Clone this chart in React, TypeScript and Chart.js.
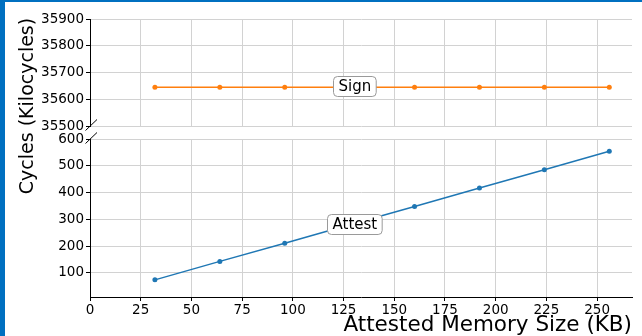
import React, { useEffect, useRef } from 'react';
import { Chart, registerables } from 'chart.js';

Chart.register(...registerables);

// ---- data ----
const memorySizes = [32, 64, 96, 128, 160, 192, 224, 256];
const signCycles = [35645, 35645, 35645, 35645, 35645, 35645, 35645, 35645];
const attestCycles = [74, 143, 211, 280, 348, 417, 485, 554];
const xTicks = [0, 25, 50, 75, 100, 125, 150, 175, 200, 225, 250];
const topYTicks = [35500, 35600, 35700, 35800, 35900];
const bottomYTicks = [100, 200, 300, 400, 500, 600];
const labelX = 131.5;

// ---- layout ----
const W = 642;
const H = 336;
const PLOT_LEFT = 90;
const PLOT_RIGHT = 632;
const TOP_TOP = 19;
const TOP_BOTTOM = 126;
const BOT_TOP = 139;
const BOT_BOTTOM = 297;
const Y_W = 70;
const X_MIN = 0;
const X_MAX = 267.2;

const FONT = "'DejaVu Sans', sans-serif";
const GRID = '#d2d2d2';
const ORANGE = '#ff7f0e';
const BLUE = '#1f77b4';

function interp(xs: number[], ys: number[], x: number): number {
  for (let i = 0; i < xs.length - 1; i++) {
    if (x >= xs[i] && x <= xs[i + 1]) {
      const t = (x - xs[i]) / (xs[i + 1] - xs[i]);
      return ys[i] + t * (ys[i + 1] - ys[i]);
    }
  }
  return ys[ys.length - 1];
}

function inlineLabel(text: string, series: number[], dy: number) {
  return {
    id: 'inlineLabel' + text,
    afterDatasetsDraw(chart: any) {
      const ctx = chart.ctx;
      const xs = chart.scales.x;
      const ys = chart.scales.y;
      const px = xs.getPixelForValue(labelX) - 2;
      const py = ys.getPixelForValue(interp(memorySizes, series, labelX)) + dy;
      ctx.save();
      ctx.font = `15px ${FONT}`;
      const tw = ctx.measureText(text).width;
      const w = tw + 10;
      const h = 20;
      const x0 = Math.round(px - w / 2);
      const y0 = Math.round(py - h / 2);
      ctx.beginPath();
      ctx.roundRect(x0 + 0.5, y0 + 0.5, w, h, 4);
      ctx.fillStyle = '#ffffff';
      ctx.fill();
      ctx.strokeStyle = '#9a9a9a';
      ctx.lineWidth = 1;
      ctx.stroke();
      ctx.fillStyle = '#000';
      ctx.textAlign = 'center';
      ctx.textBaseline = 'middle';
      ctx.fillText(text, x0 + w / 2 + 0.5, y0 + h / 2 + 1);
      ctx.restore();
    },
  };
}

function breakMark(where: 'bottom' | 'top') {
  return {
    id: 'breakMark' + where,
    afterDraw(chart: any) {
      const ctx = chart.ctx;
      const a = chart.chartArea;
      const cx = a.left + 1;
      const cy = where === 'bottom' ? a.bottom - 1 : a.top - 1;
      ctx.save();
      ctx.strokeStyle = '#000';
      ctx.lineWidth = 1;
      ctx.beginPath();
      ctx.moveTo(cx - 5.5, cy + 5.5);
      ctx.lineTo(cx + 6, cy - 5.5);
      ctx.stroke();
      ctx.restore();
    },
  };
}

const yTitlePlugin = {
  id: 'yTitle',
  afterDraw(chart: any) {
    const ctx = chart.ctx;
    ctx.save();
    ctx.translate(28, 106);
    ctx.rotate(-Math.PI / 2);
    ctx.font = `19px ${FONT}`;
    ctx.fillStyle = '#000';
    ctx.textAlign = 'center';
    ctx.textBaseline = 'middle';
    ctx.fillText('Cycles (Kilocycles)', 0, 0);
    ctx.restore();
  },
};

const tickFont = { family: FONT, size: 13.5 };
const plainTick = (v: any) => String(v);

const fitX = (h: number) => (s: any) => {
  s.height = h;
  s.paddingLeft = 0;
  s.paddingRight = 0;
};
const fitY = (s: any) => {
  s.width = Y_W;
  s.paddingTop = 0;
  s.paddingBottom = 0;
};

export default function App() {
  const topRef = useRef<HTMLCanvasElement | null>(null);
  const botRef = useRef<HTMLCanvasElement | null>(null);

  useEffect(() => {
    const top = new Chart(topRef.current as HTMLCanvasElement, {
      type: 'line',
      data: {
        datasets: [
          {
            label: 'Sign',
            data: memorySizes.map((x, i) => ({ x, y: signCycles[i] })),
            borderColor: ORANGE,
            backgroundColor: ORANGE,
            borderWidth: 1.5,
            pointRadius: 2.5,
            pointBorderWidth: 0,
            pointBackgroundColor: ORANGE,
          },
        ],
      },
      options: {
        animation: false,
        responsive: false,
        events: [],
        layout: {
          padding: {
            left: PLOT_LEFT - Y_W,
            right: W - PLOT_RIGHT,
            top: TOP_TOP,
            bottom: H - TOP_BOTTOM,
          },
        },
        plugins: { legend: { display: false }, tooltip: { enabled: false } },
        scales: {
          x: {
            type: 'linear',
            min: X_MIN,
            max: X_MAX,
            afterBuildTicks: (s: any) => {
              s.ticks = xTicks.map((v) => ({ value: v }));
            },
            afterFit: fitX(0),
            ticks: { display: false },
            grid: { color: GRID, lineWidth: 1, drawTicks: false },
            border: { display: false },
          },
          y: {
            type: 'linear',
            min: 35500,
            max: 35900,
            afterBuildTicks: (s: any) => {
              s.ticks = topYTicks.map((v) => ({ value: v }));
            },
            afterFit: fitY,
            ticks: { font: tickFont, color: '#000', padding: 2, callback: plainTick },
            grid: { color: GRID, lineWidth: 1, tickColor: '#000', tickLength: 4 },
            border: { display: true, color: '#000', width: 1 },
          },
        },
      } as any,
      plugins: [inlineLabel('Sign', signCycles, -1.5), breakMark('bottom'), yTitlePlugin],
    });

    const bot = new Chart(botRef.current as HTMLCanvasElement, {
      type: 'line',
      data: {
        datasets: [
          {
            label: 'Attest',
            data: memorySizes.map((x, i) => ({ x, y: attestCycles[i] })),
            borderColor: BLUE,
            backgroundColor: BLUE,
            borderWidth: 1.5,
            pointRadius: 2.5,
            pointBorderWidth: 0,
            pointBackgroundColor: BLUE,
          },
        ],
      },
      options: {
        animation: false,
        responsive: false,
        events: [],
        layout: {
          padding: {
            left: PLOT_LEFT - Y_W,
            right: W - PLOT_RIGHT,
            top: BOT_TOP,
            bottom: 0,
          },
        },
        plugins: { legend: { display: false }, tooltip: { enabled: false } },
        scales: {
          x: {
            type: 'linear',
            min: X_MIN,
            max: X_MAX,
            afterBuildTicks: (s: any) => {
              s.ticks = xTicks.map((v) => ({ value: v }));
            },
            afterFit: fitX(H - BOT_BOTTOM),
            ticks: { font: tickFont, color: '#000', padding: 1, maxRotation: 0, autoSkip: false, callback: plainTick },
            grid: { color: GRID, lineWidth: 1, tickColor: '#000', tickLength: 4 },
            border: { display: true, color: '#000', width: 1 },
            title: {
              display: true,
              text: 'Attested Memory Size (KB)',
              align: 'end',
              color: '#000',
              font: { family: FONT, size: 21.5, lineHeight: 1.0 },
              padding: { top: 0, bottom: 0 },
            },
          },
          y: {
            type: 'linear',
            min: 10,
            max: 600,
            afterBuildTicks: (s: any) => {
              s.ticks = bottomYTicks.map((v) => ({ value: v }));
            },
            afterFit: fitY,
            ticks: { font: tickFont, color: '#000', padding: 2, callback: plainTick },
            grid: { color: GRID, lineWidth: 1, tickColor: '#000', tickLength: 4 },
            border: { display: true, color: '#000', width: 1 },
          },
        },
      } as any,
      plugins: [inlineLabel('Attest', attestCycles, 1.5), breakMark('top')],
    });

    return () => {
      top.destroy();
      bot.destroy();
    };
  }, []);

  const canvasStyle: React.CSSProperties = {
    position: 'absolute',
    left: 0,
    top: 0,
    width: W,
    height: H,
  };

  return (
    <div
      style={{
        position: 'fixed',
        left: 0,
        top: 0,
        width: W,
        height: H,
        background: '#ffffff',
        overflow: 'hidden',
      }}
    >
      <canvas ref={botRef} width={W} height={H} style={canvasStyle} />
      <canvas ref={topRef} width={W} height={H} style={canvasStyle} />
      <div style={{ position: 'absolute', left: 0, top: 0, width: 5, height: H, background: '#0070c0' }} />
      <div style={{ position: 'absolute', left: 0, top: 0, width: W, height: 2, background: '#0070c0' }} />
    </div>
  );
}
